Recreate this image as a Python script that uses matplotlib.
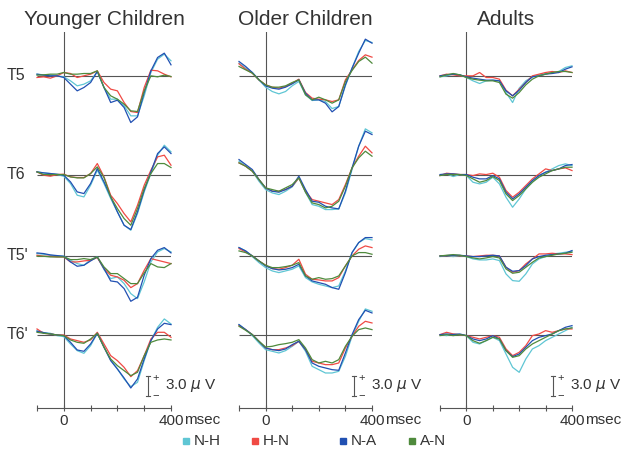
import numpy as np
import matplotlib.pyplot as plt
from matplotlib.patches import Rectangle

plt.rcParams['font.family'] = ['Liberation Sans', 'DejaVu Sans']

# time points (msec) and ERP amplitudes (microvolts)
TIMES = [-100, -75, -50, -25, 0, 25, 50, 75, 100, 125, 150,
         175, 200, 225, 250, 275, 300, 325, 350, 375, 400]

CONDITIONS = ['N-H', 'H-N', 'N-A', 'A-N']
COLORS = ['#5fc6d4', '#f04a44', '#2150b2', '#4f8a3c']
GROUPS = ['Younger Children', 'Older Children', 'Adults']
ELECTRODES = ['T5', 'T6', "T5'", "T6'"]

# Younger children
YC_T5_NH = [0.25, 0.15, 0.1, 0, -0.15, -0.75, -1.5, -1.25, -0.75, 0.65, -1.75, -3.5, -3.5, -4.5, -6.0, -6.0, -3.0, 0.5, 2.5, 3.25, 2.25]
YC_T5_HN = [-0.25, -0.15, -0.35, 0, 0.5, 0.35, -0.25, 0, 0.25, 0.75, -1.0, -2.0, -2.25, -4.0, -5.35, -5.5, -1.75, 0.85, 0.75, 0.25, -0.15]
YC_T5_NA = [0.25, 0.1, 0, 0, -0.25, -1.25, -2.25, -1.75, -1.0, 0.65, -1.75, -4.0, -3.65, -4.75, -7.0, -6.15, -2.5, 0.75, 2.75, 3.4, 1.65]
YC_T5_AN = [0.1, 0.15, 0.25, 0.25, 0.5, 0.25, 0.25, 0.35, 0.35, 0.75, -1.75, -3.0, -3.5, -4.25, -5.25, -5.35, -2.25, 0, -0.15, 0.1, -0.1]

YC_T6_NH = [0.4, 0.25, 0.15, 0, -0.25, -1.35, -3.1, -3.35, -1.6, 0.65, -1.35, -3.6, -5.6, -7.6, -8.35, -5.85, -2.6, 0.15, 2.9, 4.4, 3.4]
YC_T6_HN = [0.4, -0.1, -0.25, 0, 0.05, -0.35, -0.45, -0.45, 0.15, 1.65, -0.35, -3.1, -4.35, -5.85, -7.1, -4.6, -1.6, 0.65, 2.65, 2.9, 1.4]
YC_T6_NA = [0.4, 0.25, 0.15, 0.05, -0.1, -1.1, -2.6, -2.85, -1.35, 0.9, -1.1, -3.35, -5.6, -7.6, -8.25, -5.6, -2.35, 0.4, 3.15, 4.15, 3.15]
YC_T6_AN = [0.4, 0, 0, 0, 0, -0.35, -0.5, -0.5, 0.15, 1.15, -0.45, -3.35, -5.1, -6.6, -7.6, -5.1, -2.1, 0.15, 1.65, 1.65, 1.05]

YC_T5p_NH = [0.35, 0.25, 0.1, 0, -0.05, -0.65, -1.15, -1.4, -0.55, -0.15, -2.05, -3.4, -3.15, -4.15, -5.65, -6.4, -3.9, -0.9, 0.6, 1.1, 0.6]
YC_T5p_HN = [0.1, -0.05, -0.05, -0.15, -0.15, -0.9, -0.9, -0.75, -0.65, -0.25, -1.9, -2.9, -3.15, -3.65, -4.75, -4.15, -2.15, -0.4, -0.65, -0.9, -1.15]
YC_T5p_NA = [0.45, 0.35, 0.15, 0.05, -0.05, -0.9, -1.55, -1.4, -0.75, -0.15, -1.9, -3.75, -3.9, -4.9, -6.8, -6.2, -2.9, -0.4, 0.85, 1.25, 0.45]
YC_T5p_AN = [-0.05, -0.05, -0.15, -0.15, -0.15, -0.55, -0.55, -0.4, -0.55, -0.15, -1.65, -2.65, -2.65, -3.4, -4.15, -4.15, -2.55, -1.15, -1.65, -1.75, -1.15]

YC_T6p_NH = [0.6, 0.3, 0.2, -0.15, -0.3, -1.4, -2.4, -2.8, -1.65, 0.2, -1.8, -3.8, -5.15, -6.65, -7.8, -7.15, -3.9, -0.9, 1.1, 2.35, 1.6]
YC_T6p_HN = [0.85, 0.2, 0.1, -0.05, -0.05, -0.65, -0.9, -1.15, -0.8, 0.35, -1.4, -3.15, -3.9, -4.9, -6.3, -5.4, -3.15, -0.65, 0.35, 0.35, -0.4]
YC_T6p_NA = [0.5, 0.3, 0.1, -0.05, -0.15, -1.15, -2.3, -2.5, -1.4, 0.2, -1.9, -3.9, -5.15, -6.5, -8.0, -6.65, -3.65, -0.9, 0.85, 1.7, 1.5]
YC_T6p_AN = [0.35, 0.2, 0.1, -0.05, -0.15, -0.8, -1.15, -1.3, -0.65, 0.2, -1.9, -3.65, -4.65, -5.4, -6.15, -5.65, -3.15, -1.15, -0.8, -0.65, -0.8]

# Older children
OC_T5_NH = [1.9, 1.15, 0.5, -0.6, -1.7, -2.35, -2.7, -2.35, -1.5, -0.85, -2.85, -3.7, -3.6, -3.85, -4.9, -4.6, -1.5, 1.15, 3.65, 5.3, 5.0]
OC_T5_HN = [1.8, 1.0, 0.4, -0.6, -1.35, -1.7, -1.85, -1.6, -1.1, -0.5, -2.5, -3.35, -3.5, -3.6, -3.85, -3.6, -0.6, 0.9, 2.3, 3.15, 2.8]
OC_T5_NA = [2.15, 1.4, 0.5, -0.6, -1.5, -1.85, -2.0, -1.7, -1.2, -0.6, -2.6, -3.6, -3.6, -4.1, -5.4, -4.6, -1.35, 1.15, 3.4, 5.5, 4.9]
OC_T5_AN = [1.4, 0.9, 0.4, -0.6, -1.35, -1.7, -1.7, -1.5, -1.0, -0.6, -2.85, -3.6, -3.2, -3.6, -4.1, -3.6, -0.85, 0.8, 2.15, 2.8, 1.9]

OC_T6_NH = [2.0, 1.25, 0.5, -1.0, -2.25, -2.75, -3.0, -2.5, -1.85, -0.5, -2.65, -4.5, -4.75, -5.25, -5.25, -5.15, -2.75, 0.75, 4.25, 6.85, 6.25]
OC_T6_HN = [1.75, 1.25, 0.5, -0.75, -2.0, -2.5, -2.5, -2.25, -1.75, -0.5, -2.5, -3.75, -4.0, -4.25, -4.5, -3.75, -1.5, 1.0, 2.75, 4.25, 3.25]
OC_T6_NA = [2.25, 1.5, 0.75, -0.75, -2.0, -2.5, -2.65, -2.25, -1.75, -0.25, -2.25, -4.0, -4.15, -4.75, -5.0, -5.15, -2.5, 1.0, 4.25, 6.5, 6.0]
OC_T6_AN = [1.75, 1.25, 0.5, -0.75, -2.0, -2.25, -2.5, -2.0, -1.5, -0.5, -2.65, -4.25, -4.5, -5.0, -4.75, -4.0, -1.75, 1.0, 2.5, 3.5, 2.75]

OC_T5p_NH = [1.25, 0.75, -0.1, -1.0, -1.75, -2.25, -2.5, -2.25, -2.0, -1.5, -3.25, -3.9, -4.25, -4.5, -4.75, -4.5, -2.25, 0.5, 2.0, 2.6, 2.4]
OC_T5p_HN = [1.1, 0.6, 0, -0.75, -1.4, -1.9, -2.0, -1.75, -1.4, -0.5, -2.75, -3.5, -3.6, -3.75, -3.75, -3.25, -1.5, 0, 1.0, 1.5, 1.25]
OC_T5p_NA = [1.25, 0.75, 0, -0.75, -1.5, -1.9, -2.1, -2.0, -1.75, -1.25, -3.0, -3.75, -4.0, -4.25, -4.75, -5.0, -2.5, 0.5, 2.0, 2.75, 2.75]
OC_T5p_AN = [0.75, 0.5, 0, -0.75, -1.4, -1.75, -1.75, -1.6, -1.4, -1.0, -3.0, -3.5, -3.25, -3.5, -3.4, -3.0, -1.5, 0, 0.5, 0.5, 0.25]

OC_T6p_NH = [1.5, 0.75, -0.15, -1.25, -2.25, -2.5, -2.75, -2.4, -1.75, -1.0, -2.5, -4.75, -5.25, -5.75, -5.75, -5.5, -3.25, -0.25, 2.0, 3.85, 3.5]
OC_T6p_HN = [1.35, 0.75, 0, -1.0, -2.0, -2.25, -2.25, -2.0, -1.65, -1.0, -2.25, -4.0, -4.25, -4.5, -4.5, -4.25, -2.0, -0.25, 1.25, 2.0, 1.75]
OC_T6p_NA = [1.5, 0.75, 0, -1.0, -2.0, -2.25, -2.4, -2.15, -1.5, -1.0, -2.25, -4.25, -4.75, -5.0, -5.25, -5.35, -2.75, 0, 2.25, 3.65, 3.25]
OC_T6p_AN = [1.25, 0.65, 0, -1.0, -1.85, -1.75, -1.5, -1.35, -1.15, -0.75, -2.0, -3.75, -4.25, -4.0, -4.25, -3.75, -1.75, -0.25, 0.75, 1.0, 0.75]

# Adults
AD_T5_NH = [-0.15, 0, 0.25, 0.15, -0.25, -0.75, -1.15, -0.75, -0.65, -0.75, -2.5, -4.0, -1.85, -0.75, -0.15, 0.15, 0.35, 0.5, 0.65, 1.25, 1.5]
AD_T5_HN = [0, 0.25, 0.15, 0, 0, 0, 0.5, -0.25, -0.25, -0.5, -2.15, -3.0, -2.0, -1.0, 0, 0.25, 0.5, 0.65, 0.5, 0.75, 0.5]
AD_T5_NA = [0, 0.15, 0.25, 0.15, -0.15, -0.35, -0.5, -0.65, -0.65, -0.75, -2.25, -3.0, -2.15, -1.0, -0.15, 0, 0.25, 0.35, 0.5, 1.0, 1.35]
AD_T5_AN = [-0.15, 0.15, 0.35, 0.15, -0.25, -0.5, -0.65, -0.75, -0.75, -1.0, -2.75, -3.35, -2.5, -1.35, -0.5, 0, 0.25, 0.5, 0.65, 0.65, 0.5]

AD_T6_NH = [-0.15, 0.1, -0.3, 0, -0.15, -1.15, -1.4, -1.15, -0.4, -1.4, -3.4, -4.9, -3.65, -2.15, -1.15, -0.15, 0.35, 0.85, 1.35, 1.6, 1.35]
AD_T6_HN = [-0.15, 0.2, 0.1, 0, 0, -0.15, 0.1, 0, 0.2, -0.4, -2.4, -3.4, -2.65, -1.65, -0.65, 0.1, 0.85, 0.6, 0.85, 1.0, 0.6]
AD_T6_NA = [0, 0.1, 0.1, 0, 0, -0.4, -0.65, -0.65, -0.15, -0.65, -2.65, -3.65, -2.9, -1.9, -0.9, -0.15, 0.35, 0.6, 0.85, 1.35, 1.5]
AD_T6_AN = [-0.15, 0, 0, 0, -0.15, -0.65, -1.15, -0.9, -0.3, -0.9, -2.9, -3.9, -3.15, -2.15, -1.15, -0.4, 0.1, 0.6, 0.85, 1.1, 1.1]

AD_T5p_NH = [-0.1, 0.05, -0.1, 0.05, -0.1, -0.45, -0.6, -0.6, -0.45, -0.7, -2.7, -3.7, -3.8, -2.7, -1.2, -0.45, -0.1, 0.3, 0.4, 0.55, 0.7]
AD_T5p_HN = [0, 0.05, 0.05, 0.05, 0, -0.1, 0, 0.1, 0.1, 0, -1.7, -2.45, -2.2, -1.2, -0.45, 0.3, 0.3, 0.4, 0.3, 0.3, 0.2]
AD_T5p_NA = [0, 0.05, 0.1, 0.1, 0, -0.1, -0.1, 0, 0.1, 0, -1.7, -2.3, -2.2, -1.45, -0.45, -0.1, 0.1, 0.2, 0.3, 0.4, 0.8]
AD_T5p_AN = [0, 0.1, 0.2, 0.1, -0.1, -0.3, -0.45, -0.3, -0.1, -0.3, -1.95, -2.6, -2.45, -1.7, -0.95, -0.3, -0.1, 0.1, 0.3, 0.4, 0.55]

AD_T6p_NH = [0, -0.15, 0.1, 0, -0.15, -1.15, -1.4, -0.9, -0.4, -0.9, -2.9, -4.9, -5.65, -3.65, -2.15, -1.65, -0.9, -0.4, 0.1, 0.6, 1.1]
AD_T6p_HN = [0, 0.35, 0.1, 0, -0.15, -0.4, -0.65, -0.4, -0.15, -0.4, -2.15, -3.15, -2.65, -1.65, -0.15, 0.1, 0.6, 0.35, 0.6, 0.85, 0.85]
AD_T6p_NA = [0, 0.1, 0, 0.1, -0.15, -0.65, -0.9, -0.65, -0.15, -0.65, -2.4, -3.3, -2.9, -1.9, -0.9, -0.4, -0.15, 0.1, 0.6, 1.1, 1.35]
AD_T6p_AN = [-0.15, 0, -0.15, 0, -0.15, -0.9, -1.3, -0.9, -0.4, -0.65, -2.4, -3.4, -3.15, -2.15, -1.4, -0.9, -0.4, 0.1, 0.6, 0.85, 1.0]

PANELS = {
    'Younger Children': [
        [YC_T5_NH, YC_T5_HN, YC_T5_NA, YC_T5_AN],
        [YC_T6_NH, YC_T6_HN, YC_T6_NA, YC_T6_AN],
        [YC_T5p_NH, YC_T5p_HN, YC_T5p_NA, YC_T5p_AN],
        [YC_T6p_NH, YC_T6p_HN, YC_T6p_NA, YC_T6p_AN],
    ],
    'Older Children': [
        [OC_T5_NH, OC_T5_HN, OC_T5_NA, OC_T5_AN],
        [OC_T6_NH, OC_T6_HN, OC_T6_NA, OC_T6_AN],
        [OC_T5p_NH, OC_T5p_HN, OC_T5p_NA, OC_T5p_AN],
        [OC_T6p_NH, OC_T6p_HN, OC_T6p_NA, OC_T6p_AN],
    ],
    'Adults': [
        [AD_T5_NH, AD_T5_HN, AD_T5_NA, AD_T5_AN],
        [AD_T6_NH, AD_T6_HN, AD_T6_NA, AD_T6_AN],
        [AD_T5p_NH, AD_T5p_HN, AD_T5p_NA, AD_T5p_AN],
        [AD_T6p_NH, AD_T6p_HN, AD_T6p_NA, AD_T6p_AN],
    ],
}

# layout (pixels of a 627x451 figure)
W, H = 627, 451
COL_LEFT = [37, 239, 440]
COL_WIDTH = [134, 133, 132]
AX_BOTTOM, AX_TOP = 408, 32
PX_PER_UV = 6.67
ROW_BASE = [49.8, 35.0, 22.8, 11.0]   # baseline of each electrode row (uV above time axis)
SCALE_X = [313, 331, 328]
GRAY = '#555555'
TXT = '#333333'

fig = plt.figure(figsize=(W / 100, H / 100), dpi=100)

for ci, group in enumerate(GROUPS):
    ax = fig.add_axes([COL_LEFT[ci] / W, (H - AX_BOTTOM) / H,
                       COL_WIDTH[ci] / W, (AX_BOTTOM - AX_TOP) / H])
    ax.set_xlim(-100, 400)
    ax.set_ylim(0, (AX_BOTTOM - AX_TOP) / PX_PER_UV)
    for s in ['left', 'right', 'top']:
        ax.spines[s].set_visible(False)
    ax.spines['bottom'].set_color(GRAY)
    ax.spines['bottom'].set_linewidth(0.8)
    ax.set_yticks([])
    ax.set_xticks([-100, 0, 100, 200, 300, 400])
    ax.set_xticklabels(['', '0', '', '', '', '400'])
    ax.tick_params(axis='x', direction='inout', length=5, width=0.8,
                   color=GRAY, labelsize=11, labelcolor=TXT, pad=1.5)
    ax.annotate('msec', xy=(400, 0), xytext=(13, -12), textcoords='offset pixels',
                ha='left', va='center', fontsize=11, color=TXT, annotation_clip=False)

    ax.axvline(0, color=GRAY, lw=0.8)
    ax.set_title(group, fontsize=15, color=TXT, pad=5)

    for ri, base in enumerate(ROW_BASE):
        ax.hlines(base, -100, 400, color=GRAY, lw=0.8, zorder=1)
        for vals, color in zip(PANELS[group][ri], COLORS):
            ax.plot(TIMES, np.array(vals) + base, color=color, lw=0.9,
                    clip_on=False, zorder=2)
        if ci == 0:
            ax.annotate(ELECTRODES[ri], xy=(-100, base), xytext=(-30, 0),
                        textcoords='offset pixels', ha='left', va='center',
                        fontsize=11.5, color=TXT, annotation_clip=False)

    # 3.0 uV calibration bar
    sx = SCALE_X[ci]
    y0, y1 = 1.8, 4.8
    ax.plot([sx, sx], [y0, y1], color=GRAY, lw=0.8)
    ax.plot([sx - 8, sx + 8], [y0, y0], color=GRAY, lw=0.8)
    ax.plot([sx - 8, sx + 8], [y1, y1], color=GRAY, lw=0.8)
    ax.text(sx + 30, y1 - 0.3, '+', fontsize=8, color=TXT, ha='center', va='center')
    ax.text(sx + 30, y0 + 0.15, '\u2212', fontsize=8, color=TXT, ha='center', va='center')
    ax.text(sx + 65, (y0 + y1) / 2, r'3.0 $\mu$ V', fontsize=11, color=TXT,
            ha='left', va='center')

# legend
LEG_X = [183, 252, 340, 409]
LEG_Y = 441
for name, color, lx in zip(CONDITIONS, COLORS, LEG_X):
    fig.patches.append(Rectangle((lx / W, (H - LEG_Y - 3) / H), 6 / W, 6 / H,
                                 color=color, transform=fig.transFigure))
    fig.text((lx + 11) / W, (H - LEG_Y) / H, name, fontsize=11, color=TXT,
             ha='left', va='center')

fig.savefig('out.png', dpi=100)
